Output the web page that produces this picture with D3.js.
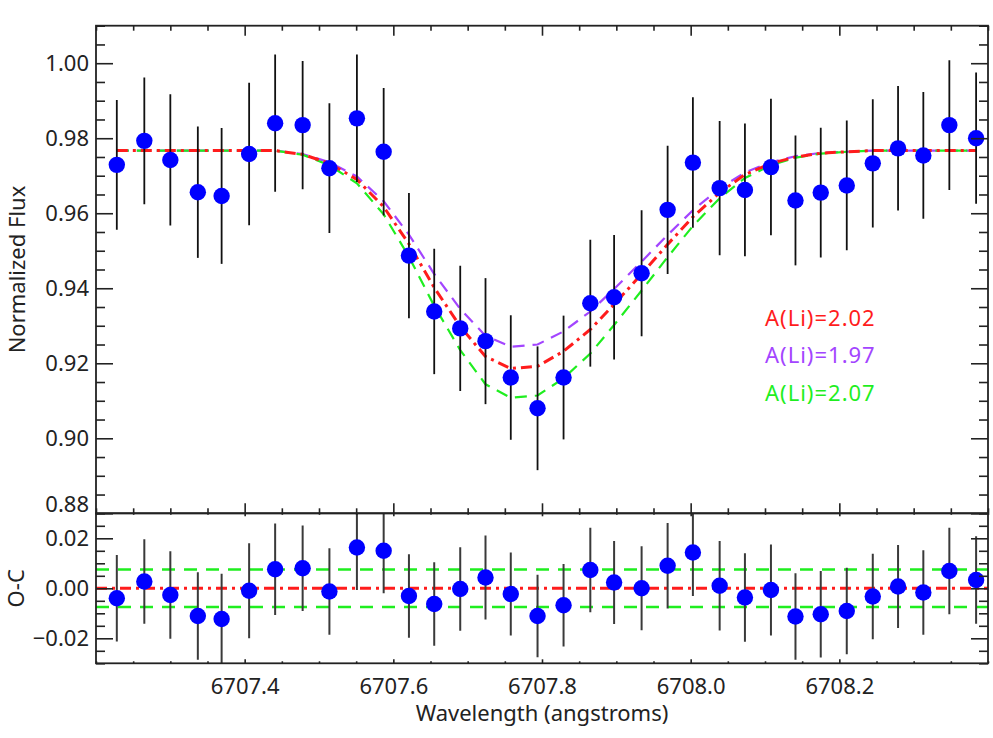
<!DOCTYPE html>
<html><head><meta charset="utf-8">
<script src="https://cdn.jsdelivr.net/npm/d3@7"></script>
<style>
body{margin:0;background:#fff}
text{font-family:"Noto Sans",sans-serif}
</style>
</head><body>
<svg id="c" width="993" height="738"></svg>
<script>
// ---- data ----
const wavelength = [6707.228,6707.265,6707.300,6707.337,6707.369,6707.406,6707.441,6707.478,6707.514,6707.551,
  6707.587,6707.621,6707.655,6707.690,6707.724,6707.758,6707.794,6707.829,6707.865,6707.897,
  6707.934,6707.969,6708.003,6708.039,6708.073,6708.108,6708.141,6708.175,6708.210,6708.245,
  6708.279,6708.313,6708.348,6708.384];
const flux = [0.9729,0.9793,0.9742,0.9656,0.9646,0.9758,0.9840,0.9835,0.9720,0.9853,
  0.9764,0.9487,0.9338,0.9293,0.9259,0.9162,0.9080,0.9162,0.9360,0.9376,
  0.9440,0.9609,0.9735,0.9667,0.9662,0.9723,0.9634,0.9655,0.9674,0.9733,
  0.9773,0.9754,0.9835,0.9800];
const fluxErr = [0.0173,0.0169,0.0175,0.0175,0.0181,0.0190,0.0183,0.0171,0.0173,0.0170,
  0.0170,0.0167,0.0167,0.0167,0.0168,0.0166,0.0165,0.0165,0.0169,0.0166,
  0.0168,0.0171,0.0174,0.0179,0.0177,0.0182,0.0173,0.0173,0.0173,0.0171,
  0.0166,0.0169,0.0173,0.0175];
const residual = [-0.0040,0.0027,-0.0027,-0.0111,-0.0123,-0.0010,0.0076,0.0080,-0.0013,0.0163,
  0.0150,-0.0031,-0.0063,-0.0003,0.0043,-0.0023,-0.0111,-0.0068,0.0073,0.0023,
  0.0000,0.0090,0.0143,0.0010,-0.0037,-0.0007,-0.0113,-0.0104,-0.0091,-0.0033,
  0.0007,-0.0017,0.0069,0.0033];
const modelBest = [0.9767,0.9767,0.9767,0.9767,0.9767,0.9767,0.9767,0.9757,0.9733,0.9690,
  0.9617,0.9518,0.9402,0.9298,0.9218,0.9186,0.9192,0.9232,0.9290,0.9357,
  0.9438,0.9517,0.9590,0.9655,0.9703,0.9733,0.9750,0.9760,0.9764,0.9767,
  0.9767,0.9767,0.9767,0.9767];
const modelLow = [0.9767,0.9767,0.9767,0.9767,0.9767,0.9767,0.9767,0.9758,0.9736,0.9698,
  0.9632,0.9543,0.9438,0.9345,0.9273,0.9244,0.9250,0.9285,0.9338,0.9398,
  0.9471,0.9542,0.9608,0.9666,0.9709,0.9736,0.9752,0.9761,0.9764,0.9767,
  0.9767,0.9767,0.9767,0.9767];
const modelHigh = [0.9767,0.9767,0.9767,0.9767,0.9767,0.9767,0.9767,0.9756,0.9728,0.9680,
  0.9597,0.9484,0.9353,0.9235,0.9144,0.9108,0.9114,0.9160,0.9226,0.9302,
  0.9394,0.9483,0.9566,0.9640,0.9694,0.9728,0.9748,0.9759,0.9764,0.9767,
  0.9767,0.9767,0.9767,0.9767];
const residualBand = [0.0075, -0.0075];
const xTickValues = [6707.4, 6707.6, 6707.8, 6708.0, 6708.2];
const fluxTickValues = [0.88, 0.90, 0.92, 0.94, 0.96, 0.98, 1.00];
const ocTickValues = [-0.02, 0.00, 0.02];
const legendLabels = ["A(Li)=2.02", "A(Li)=1.97", "A(Li)=2.07"];
const xTitle = "Wavelength (angstroms)";
const yTitleTop = "Normalized Flux";
const yTitleBottom = "O-C";

// ---- styles ----
const RED = "#ff1c1c", PURPLE = "#a345ff", GREEN = "#1fee1f", BLUE = "#0000ff";
const FS = "22px";

const svg = d3.select("#c");
const L = 96, R = 988;
const T1 = 25.7, B1 = 513.3, B2 = 663.3;

const x = d3.scaleLinear().domain([6707.2, 6708.4]).range([L, R]);
const y1 = d3.scaleLinear().domain([0.88, 1.01]).range([B1, T1]);
const y2 = d3.scaleLinear().domain([-0.03, 0.03]).range([B2, B1]);

const defs = svg.append("defs");
defs.append("clipPath").attr("id","clipTop").append("rect")
  .attr("x",L).attr("y",T1).attr("width",R-L).attr("height",B1-T1);
defs.append("clipPath").attr("id","clipBot").append("rect")
  .attr("x",L).attr("y",B1).attr("width",R-L).attr("height",B2-B1);

const idx = d3.range(wavelength.length);

// ---- top panel ----
const gTop = svg.append("g").attr("clip-path","url(#clipTop)");
const line = (arr) => d3.line().x(i => x(wavelength[i])).y(i => y1(arr[i]))(idx);

gTop.append("path").attr("d", line(modelLow)).attr("fill","none")
  .attr("stroke",PURPLE).attr("stroke-width",2.2).attr("stroke-dasharray","12,8");
gTop.append("path").attr("d", line(modelHigh)).attr("fill","none")
  .attr("stroke",GREEN).attr("stroke-width",2.2).attr("stroke-dasharray","12,8");
gTop.append("path").attr("d", line(modelBest)).attr("fill","none")
  .attr("stroke",RED).attr("stroke-width",3).attr("stroke-dasharray","11,5,3,5");

gTop.selectAll("line.err").data(idx).join("line").attr("class","err")
  .attr("x1", i => x(wavelength[i])).attr("x2", i => x(wavelength[i]))
  .attr("y1", i => y1(flux[i] - fluxErr[i])).attr("y2", i => y1(flux[i] + fluxErr[i]))
  .attr("stroke","#111").attr("stroke-width",1.8);
gTop.selectAll("circle").data(idx).join("circle")
  .attr("cx", i => x(wavelength[i])).attr("cy", i => y1(flux[i]))
  .attr("r", 8.2).attr("fill", BLUE);

// legend
const legColors = [RED, PURPLE, GREEN];
svg.selectAll("text.leg").data(legendLabels).join("text").attr("class","leg")
  .attr("x", 765).attr("y", (d,i) => 326 + i*37.3)
  .attr("fill", (d,i) => legColors[i]).attr("font-size", FS)
  .attr("letter-spacing","1px")
  .text(d => d);

// ---- bottom panel ----
const gBot = svg.append("g").attr("clip-path","url(#clipBot)");
residualBand.forEach(v => {
  gBot.append("line").attr("x1",L).attr("x2",R).attr("y1",y2(v)).attr("y2",y2(v))
    .attr("stroke",GREEN).attr("stroke-width",2.4).attr("stroke-dasharray","13,9");
});
gBot.append("line").attr("x1",L).attr("x2",R).attr("y1",y2(0)).attr("y2",y2(0))
  .attr("stroke",RED).attr("stroke-width",3).attr("stroke-dasharray","11,5,3,5");
gBot.selectAll("line.err").data(idx).join("line").attr("class","err")
  .attr("x1", i => x(wavelength[i])).attr("x2", i => x(wavelength[i]))
  .attr("y1", i => y2(residual[i] - fluxErr[i])).attr("y2", i => y2(residual[i] + fluxErr[i]))
  .attr("stroke","#3a3a3a").attr("stroke-width",2);
gBot.selectAll("circle").data(idx).join("circle")
  .attr("cx", i => x(wavelength[i])).attr("cy", i => y2(residual[i]))
  .attr("r", 8.2).attr("fill", BLUE);

// ---- axes ----
const AX = "#222";
function styleAxis(g){
  g.select(".domain").remove();
  g.selectAll(".tick line").attr("stroke",AX).attr("stroke-width",1.6);
  g.selectAll(".tick text").attr("font-size",FS).attr("fill","#222")
    .attr("font-family",'"Noto Sans",sans-serif');
}
const xMinor = x.ticks(24).filter(v => !xTickValues.some(t => Math.abs(t-v) < 1e-6));
function xAxes(yPos, dir, major, minor, labels){
  const mk = dir === "up" ? d3.axisTop : d3.axisBottom;
  svg.append("g").attr("transform",`translate(0,${yPos})`)
    .call(mk(x).tickValues(xTickValues).tickSize(-major).tickSizeOuter(0)
      .tickPadding(labels ? 15 : 0).tickFormat(labels ? d3.format(".1f") : ""))
    .call(styleAxis);
  svg.append("g").attr("transform",`translate(0,${yPos})`)
    .call(mk(x).tickValues(xMinor).tickSize(-minor).tickSizeOuter(0).tickFormat(""))
    .call(styleAxis);
}
xAxes(T1, "up", 10, 5, false);
xAxes(B1, "bottom", 10, 5, false);
xAxes(B1, "up", 3, 1.5, false);
xAxes(B2, "bottom", 4, 2, true);

function yAxes(scale, majors, minorStep, labels, fmt){
  const dom = scale.domain();
  const minors = d3.range(Math.round(dom[0]/minorStep), Math.round(dom[1]/minorStep)+1)
    .map(k => k*minorStep).filter(v => !majors.some(t => Math.abs(t-v) < 1e-9));
  svg.append("g").attr("transform",`translate(${L},0)`)
    .call(d3.axisLeft(scale).tickValues(majors).tickSize(-17).tickSizeOuter(0)
      .tickPadding(7).tickFormat(labels ? fmt : ""))
    .call(styleAxis);
  svg.append("g").attr("transform",`translate(${L},0)`)
    .call(d3.axisLeft(scale).tickValues(minors).tickSize(-9).tickSizeOuter(0).tickFormat(""))
    .call(styleAxis);
  svg.append("g").attr("transform",`translate(${R},0)`)
    .call(d3.axisRight(scale).tickValues(majors).tickSize(-17).tickSizeOuter(0).tickFormat(""))
    .call(styleAxis);
  svg.append("g").attr("transform",`translate(${R},0)`)
    .call(d3.axisRight(scale).tickValues(minors).tickSize(-9).tickSizeOuter(0).tickFormat(""))
    .call(styleAxis);
}
yAxes(y1, fluxTickValues, 0.005, true, d3.format(".2f"));
yAxes(y2, ocTickValues, 0.005, true, d3.format(".2f"));
svg.selectAll("g.tick text").filter(function(){ return this.textContent === "0.88"; })
  .attr("dy","-0.1em");

// frames
svg.append("rect").attr("x",L).attr("y",T1).attr("width",R-L).attr("height",B1-T1)
  .attr("fill","none").attr("stroke",AX).attr("stroke-width",1.8);
svg.append("rect").attr("x",L).attr("y",B1).attr("width",R-L).attr("height",B2-B1)
  .attr("fill","none").attr("stroke",AX).attr("stroke-width",1.8);

// titles
svg.append("text").attr("transform",`translate(25,${(T1+B1)/2}) rotate(-90)`)
  .attr("text-anchor","middle").attr("font-size",FS).attr("fill","#222").text(yTitleTop);
svg.append("text").attr("transform",`translate(24,${y2(0)}) rotate(-90)`)
  .attr("text-anchor","middle").attr("font-size",FS).attr("fill","#222").text(yTitleBottom);
svg.append("text").attr("x",(L+R)/2).attr("y",721)
  .attr("text-anchor","middle").attr("font-size",FS).attr("fill","#222").text(xTitle);
</script>
</body></html>
